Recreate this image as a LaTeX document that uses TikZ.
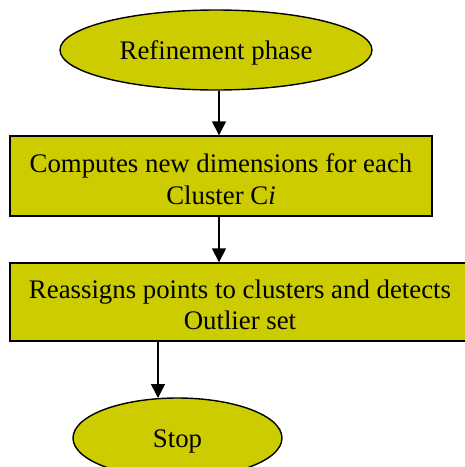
\documentclass[tikz,border=0pt]{standalone}
\usepackage{fontspec}
\setmainfont{Liberation Serif}
\usetikzlibrary{shapes.geometric,arrows.meta}
\definecolor{olivefill}{HTML}{CCCC00}
\begin{document}
\begin{tikzpicture}[x=1pt,y=-1pt,
  every node/.style={font=\fontsize{26.8}{31.5}\selectfont, align=center, inner sep=0pt},
  term/.style={ellipse, draw=black, line width=1.4pt, fill=olivefill},
  procbox/.style={rectangle, draw=black, line width=1.4pt, fill=olivefill},
  txt/.style={yshift=-3pt},
  conn/.style={draw=black, line width=1.4pt, -{Triangle[length=14pt,width=14pt]}}]
\useasboundingbox (0,0) rectangle (465,467);
\clip (0,0) rectangle (465,467);
\node[term, minimum width=312pt, minimum height=80pt] (start) at (216,50) {};
\node[txt] (t0) at (start.center) {Refinement phase};
\node[procbox, minimum width=422pt, minimum height=80pt] (b1) at (221,176) {};
\node[txt] (t1) at (b1.center) {Computes new dimensions for each\\Cluster C\textit{i}};
\node[procbox, minimum width=470pt, minimum height=78pt] (b2) at (245,302) {};
\node[txt] (t2) at (240,302) {Reassigns points to clusters and detects\\Outlier set};
\node[term, minimum width=209pt, minimum height=80pt] (stop) at (177.5,438) {};
\node[txt] (t3) at (stop.center) {Stop};
\coordinate (a1s) at (219,90);
\coordinate (a2s) at (219,216);
\coordinate (a3s) at (158,341);
\coordinate (a3e) at (158,398);
\draw[conn] (start.south -| a1s) -- (b1.north -| a1s);
\draw[conn] (b1.south -| a2s) -- (b2.north -| a2s);
\draw[conn] (b2.south -| a3s) -- (a3e);
\end{tikzpicture}
\end{document}
